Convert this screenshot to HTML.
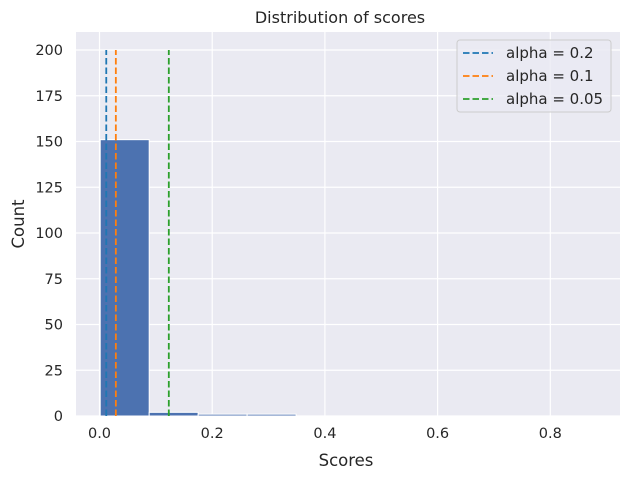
<!DOCTYPE html>
<html><head><meta charset="utf-8"><style>
body{margin:0;background:#fff;}
svg{display:block;font-family:"DejaVu Sans","Liberation Sans",sans-serif;}
</style></head><body>
<svg width="628" height="479">
<rect x="76" y="32" width="544" height="384" fill="#eaeaf2"/>
<g id="grid"></g><g id="bars"></g><g id="vlines"></g><g id="ticks"></g>
<text x="340" y="23" text-anchor="middle" font-size="16" fill="#262626">Distribution of scores</text>
<text x="346" y="466" text-anchor="middle" font-size="16.5" fill="#262626">Scores</text>
<text transform="translate(24,224) rotate(-90)" text-anchor="middle" font-size="16.5" fill="#262626">Count</text>
<g>
<rect x="457" y="40" width="154" height="72" rx="3" fill="#eaeaf2" fill-opacity="0.8" stroke="#cccccc"/>
<g id="legend"></g>
</g>
</svg>
<script>
const binStart = 0.0013;
const binWidth = 0.0869;
const counts = [151, 2, 1, 1, 0, 0, 0, 0, 0, 0];
const alphaLabels = ["alpha = 0.2", "alpha = 0.1", "alpha = 0.05"];
const alphaValues = [0.012, 0.029, 0.123];
const alphaColors = ["#1f77b4", "#ff7f0e", "#2ca02c"];
const xTicks = [0.0, 0.2, 0.4, 0.6, 0.8];
const yTicks = [0, 25, 50, 75, 100, 125, 150, 175, 200];
const NS = "http://www.w3.org/2000/svg";
const X = v => 99.5 + v * 563.5;
const Y = v => 416 - v * 1.83;
function mk(tag, attrs, parent){const e=document.createElementNS(NS,tag);for(const k in attrs)e.setAttribute(k,attrs[k]);document.getElementById(parent).appendChild(e);return e;}
xTicks.forEach(t=>{
  const l=mk("line",{x1:X(t),x2:X(t),y1:32,y2:416,stroke:"#fff","stroke-width":1.2},"grid");
  
  
  const s=mk("text",{x:X(t),y:438,"text-anchor":"middle","font-size":14.5,fill:"#262626"},"ticks");
  s.textContent=t.toFixed(1);
  
  
});
yTicks.forEach(t=>{
  const l=mk("line",{x1:76,x2:620,y1:Y(t),y2:Y(t),stroke:"#fff","stroke-width":1.2},"grid");
  
  
  const s=mk("text",{x:63,y:Y(t)+5,"text-anchor":"end","font-size":14.5,fill:"#262626"},"ticks");
  s.textContent=t;
  
  
});
counts.forEach((c,i)=>{
  const x0=X(binStart+i*binWidth), x1=X(binStart+(i+1)*binWidth);
  const r=mk("rect",{x:x0,y:Y(c),width:x1-x0,height:Y(0)-Y(c),fill:"#4c72b0",stroke:"#fff","stroke-width":1},"bars");
  
  
});
alphaValues.forEach((v,i)=>{
  const l=mk("line",{x1:X(v),x2:X(v),y1:Y(0),y2:Y(200),stroke:alphaColors[i],"stroke-width":1.8,"stroke-dasharray":"6.5,3"},"vlines");
  
  
  const y=53+i*23;
  const ll=mk("line",{x1:463,x2:493,y1:y,y2:y,stroke:alphaColors[i],"stroke-width":1.8,"stroke-dasharray":"6.5,3"},"legend");
  
  
  const t=mk("text",{x:506,y:y+5,"font-size":15,fill:"#262626"},"legend");
  t.textContent=alphaLabels[i];
  
  
});
</script>
</body></html>
